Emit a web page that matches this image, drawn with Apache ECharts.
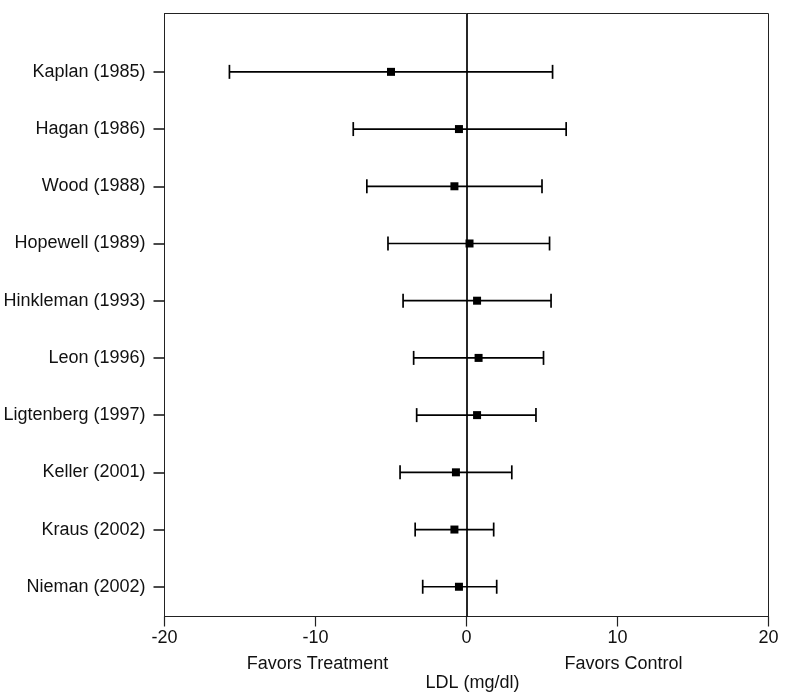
<!DOCTYPE html>
<html>
<head>
<meta charset="utf-8">
<script src="https://cdn.jsdelivr.net/npm/echarts@6/dist/echarts.min.js"></script>
<style>
  html, body { margin: 0; padding: 0; background: #fff; }
  #chart { width: 800px; height: 694px; }
</style>
</head>
<body>
<div id="chart"></div>
<script>
  // studies, top to bottom
  const studies = [
    'Kaplan (1985)', 'Hagan (1986)', 'Wood (1988)', 'Hopewell (1989)',
    'Hinkleman (1993)', 'Leon (1996)', 'Ligtenberg (1997)', 'Keller (2001)',
    'Kraus (2002)', 'Nieman (2002)'
  ];
  const estimates = [-5.0, -0.5, -0.8, 0.2, 0.7, 0.8, 0.7, -0.7, -0.8, -0.5];
  const lower = [-15.7, -7.5, -6.6, -5.2, -4.2, -3.5, -3.3, -4.4, -3.4, -2.9];
  const upper = [5.7, 6.6, 5.0, 5.5, 5.6, 5.1, 4.6, 3.0, 1.8, 2.0];
  const xTicks = [-20, -10, 0, 10, 20];

  const n = studies.length;
  const rowValues = studies.map((s, i) => n - i);
  const seriesData = studies.map((s, i) => [n - i, lower[i], estimates[i], upper[i]]);

  const chart = echarts.init(document.getElementById('chart'));
  const font = 'Liberation Sans, Arial, Helvetica, sans-serif';

  const option = {
    backgroundColor: '#fff',
    animation: false,
    grid: {
      left: 164.5,
      right: 31.5,
      top: 13.5,
      bottom: 77.5,
      show: true,
      borderColor: '#222',
      borderWidth: 1
    },
    xAxis: {
      type: 'value',
      min: -20,
      max: 20,
      interval: 10,
      axisLine: { show: true, onZero: false, lineStyle: { color: '#222', width: 1 } },
      axisTick: { show: true, inside: false, length: 10, lineStyle: { color: '#222', width: 1.2 } },
      axisLabel: {
        color: '#111',
        fontSize: 18,
        fontFamily: font,
        margin: 13,
        customValues: xTicks
      },
      splitLine: { show: false }
    },
    yAxis: {
      type: 'value',
      min: 0.48,
      max: 11.02,
      axisLine: { show: true, onZero: false, lineStyle: { color: '#222', width: 1 } },
      axisTick: {
        show: true, inside: false, length: 11,
        customValues: rowValues,
        lineStyle: { color: '#111', width: 1.5 }
      },
      axisLabel: {
        color: '#111',
        fontSize: 18,
        fontFamily: font,
        margin: 19,
        customValues: rowValues,
        formatter: v => studies[n - v] || ''
      },
      splitLine: { show: false }
    },
    graphic: [
      { type: 'text', x: 317.5, y: 664.5, style: { text: 'Favors Treatment', fill: '#111', font: '18px ' + font, align: 'center', verticalAlign: 'middle' } },
      { type: 'text', x: 623.5, y: 664.5, style: { text: 'Favors Control', fill: '#111', font: '18px ' + font, align: 'center', verticalAlign: 'middle' } },
      { type: 'text', x: 472.5, y: 683, style: { text: 'LDL (mg/dl)', fill: '#111', font: '18px ' + font, align: 'center', verticalAlign: 'middle' } }
    ],
    series: [
      {
        type: 'custom',
        encode: { x: [1, 2, 3], y: 0 },
        data: seriesData,
        renderItem(params, api) {
          const y = api.value(0);
          const lo = api.coord([api.value(1), y]);
          const mid = api.coord([api.value(2), y]);
          const hi = api.coord([api.value(3), y]);
          const cap = 7;
          const half = 4;
          const stroke = { stroke: '#000', lineWidth: 1.7 };
          return {
            type: 'group',
            children: [
              { type: 'line', shape: { x1: lo[0], y1: lo[1], x2: hi[0], y2: hi[1] }, style: stroke },
              { type: 'line', shape: { x1: lo[0], y1: lo[1] - cap, x2: lo[0], y2: lo[1] + cap }, style: stroke },
              { type: 'line', shape: { x1: hi[0], y1: hi[1] - cap, x2: hi[0], y2: hi[1] + cap }, style: stroke },
              { type: 'rect', shape: { x: mid[0] - half, y: mid[1] - half, width: half * 2, height: half * 2 }, style: { fill: '#000' } }
            ]
          };
        },
        markLine: {
          silent: true,
          symbol: 'none',
          label: { show: false },
          lineStyle: { color: '#000', width: 1.7, type: 'solid' },
          data: [{ xAxis: 0 }]
        },
        z: 3
      }
    ]
  };

  chart.setOption(option);
  window.addEventListener('resize', function () {
    chart.resize();
  });
</script>
</body>
</html>
